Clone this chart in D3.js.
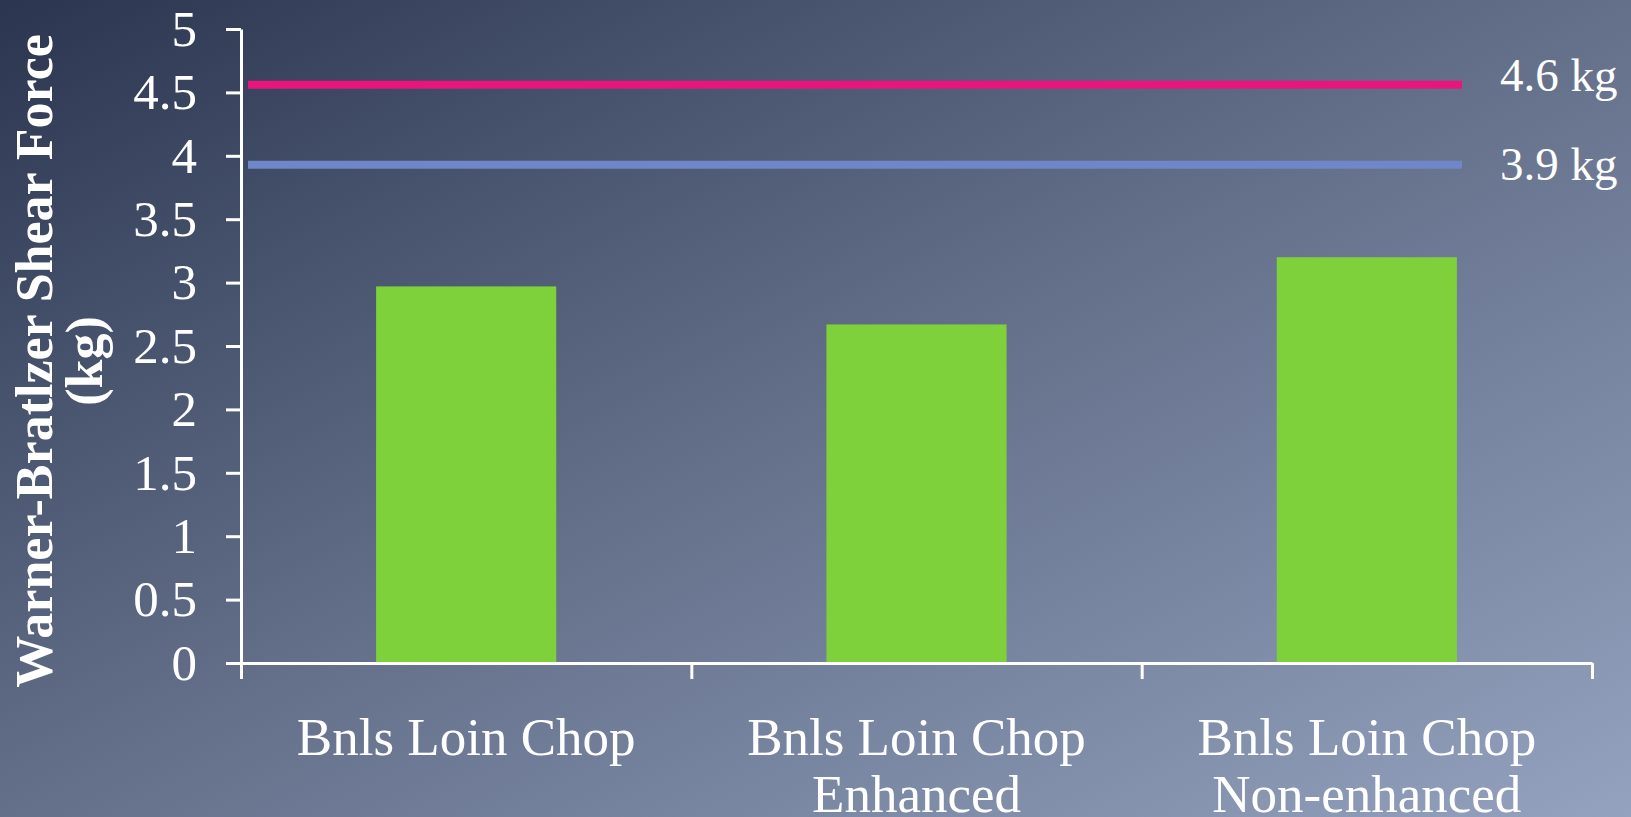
<!DOCTYPE html>
<html>
<head>
<meta charset="utf-8">
<script src="https://cdn.jsdelivr.net/npm/d3@7"></script>
<style>
  html, body { margin: 0; padding: 0; overflow: hidden; }
  svg { display: block; }
</style>
</head>
<body>
<div id="chart"></div>
<script>
// data
var categories = [["Bnls Loin Chop"], ["Bnls Loin Chop", "Enhanced"], ["Bnls Loin Chop", "Non-enhanced"]];
var shearForce = [2.97, 2.67, 3.20];
var refValues = [4.56, 3.93];
var refLabels = [4.6, 3.9];
var refColors = ["#e8167c", "#6f86c8"];
var yTicks = [0, 0.5, 1, 1.5, 2, 2.5, 3, 3.5, 4, 4.5, 5];

var width = 1631,
    height = 817;

var margin = { top: 29, right: 39, bottom: 154, left: 241 };
var plotW = width - margin.left - margin.right,
    plotH = height - margin.top - margin.bottom;

var serif = "'Liberation Serif', 'DejaVu Serif', serif";
var axisColor = "#ffffff",
    barColor = "#7ed13b";

var svg = d3.select("#chart").append("svg")
    .attr("width", width)
    .attr("height", height);

// background gradient
var defs = svg.append("defs");
var grad = defs.append("linearGradient")
    .attr("id", "bg")
    .attr("x1", 0).attr("y1", 0)
    .attr("x2", 1).attr("y2", 1);
grad.append("stop").attr("offset", 0).attr("stop-color", "#2b354f");
grad.append("stop").attr("offset", 0.5).attr("stop-color", "#64708a");
grad.append("stop").attr("offset", 1).attr("stop-color", "#94a2bf");

svg.append("rect")
    .attr("width", width)
    .attr("height", height)
    .attr("fill", "url(#bg)");

var g = svg.append("g")
    .attr("transform", "translate(" + margin.left + "," + margin.top + ")");

var y = d3.scaleLinear().domain([0, 5]).range([plotH, 0]);

var x = d3.scaleBand()
    .domain(d3.range(categories.length))
    .range([0, plotW])
    .paddingInner(0.6)
    .paddingOuter(0.3);

// boundaries between categories, for the x tick marks
var xEdges = d3.scaleLinear().domain([0, categories.length]).range([0, plotW]);

// bars
g.selectAll("rect.bar")
    .data(shearForce)
    .enter().append("rect")
    .attr("class", "bar")
    .attr("x", function(d, i) { return x(i); })
    .attr("y", function(d) { return y(d); })
    .attr("width", x.bandwidth())
    .attr("height", function(d) { return plotH - y(d); })
    .attr("fill", barColor);

// reference lines
g.selectAll("line.ref")
    .data(refValues)
    .enter().append("line")
    .attr("class", "ref")
    .attr("x1", 7)
    .attr("x2", plotW - 130)
    .attr("y1", function(d) { return y(d); })
    .attr("y2", function(d) { return y(d); })
    .attr("stroke", function(d, i) { return refColors[i]; })
    .attr("stroke-width", 8);

g.selectAll("text.refLabel")
    .data(refLabels)
    .enter().append("text")
    .attr("class", "refLabel")
    .attr("x", plotW - 92)
    .attr("y", function(d) { return y(d); })
    .attr("dy", "0.25em")
    .attr("fill", "#ffffff")
    .attr("font-family", serif)
    .attr("font-size", 47)
    .text(function(d) { return d3.format(".1f")(d) + " kg"; });

// y axis
var yAxis = g.append("g")
    .call(d3.axisLeft(y).tickValues(yTicks).tickFormat(d3.format("")).tickSize(15).tickSizeOuter(0).tickPadding(29));

// x axis
var xAxis = g.append("g")
    .attr("transform", "translate(0," + plotH + ")")
    .call(d3.axisBottom(xEdges).ticks(categories.length).tickFormat("").tickSize(16).tickSizeOuter(0));

[yAxis, xAxis].forEach(function(ax) {
    ax.select(".domain").attr("stroke", axisColor).attr("stroke-width", 3);
    ax.selectAll(".tick line").attr("stroke", axisColor).attr("stroke-width", 3);
    ax.selectAll("text")
        .attr("fill", "#ffffff")
        .attr("font-family", serif)
        .attr("font-size", 51);
});

// category labels
var catLabels = g.selectAll("text.cat")
    .data(categories)
    .enter().append("text")
    .attr("class", "cat")
    .attr("text-anchor", "middle")
    .attr("fill", "#ffffff")
    .attr("font-family", serif)
    .attr("font-size", 53)
    .attr("transform", function(d, i) {
        return "translate(" + (x(i) + x.bandwidth() / 2) + "," + (plotH + 92) + ")";
    });

catLabels.selectAll("tspan")
    .data(function(d) { return d; })
    .enter().append("tspan")
    .attr("x", 0)
    .attr("dy", function(d, i) { return i === 0 ? 0 : 57; })
    .text(function(d) { return d; });

// y axis title
var yTitle = svg.append("text")
    .attr("text-anchor", "middle")
    .attr("fill", "#ffffff")
    .attr("font-family", serif)
    .attr("font-weight", "bold")
    .attr("font-size", 52)
    .attr("transform", "translate(52," + (margin.top + plotH / 2 + 15) + ") rotate(-90)");

yTitle.append("tspan").attr("x", 0).attr("dy", 0).text("Warner-Bratlzer Shear Force");
yTitle.append("tspan").attr("x", 0).attr("dy", 50).text("(kg)");
</script>
</body>
</html>
